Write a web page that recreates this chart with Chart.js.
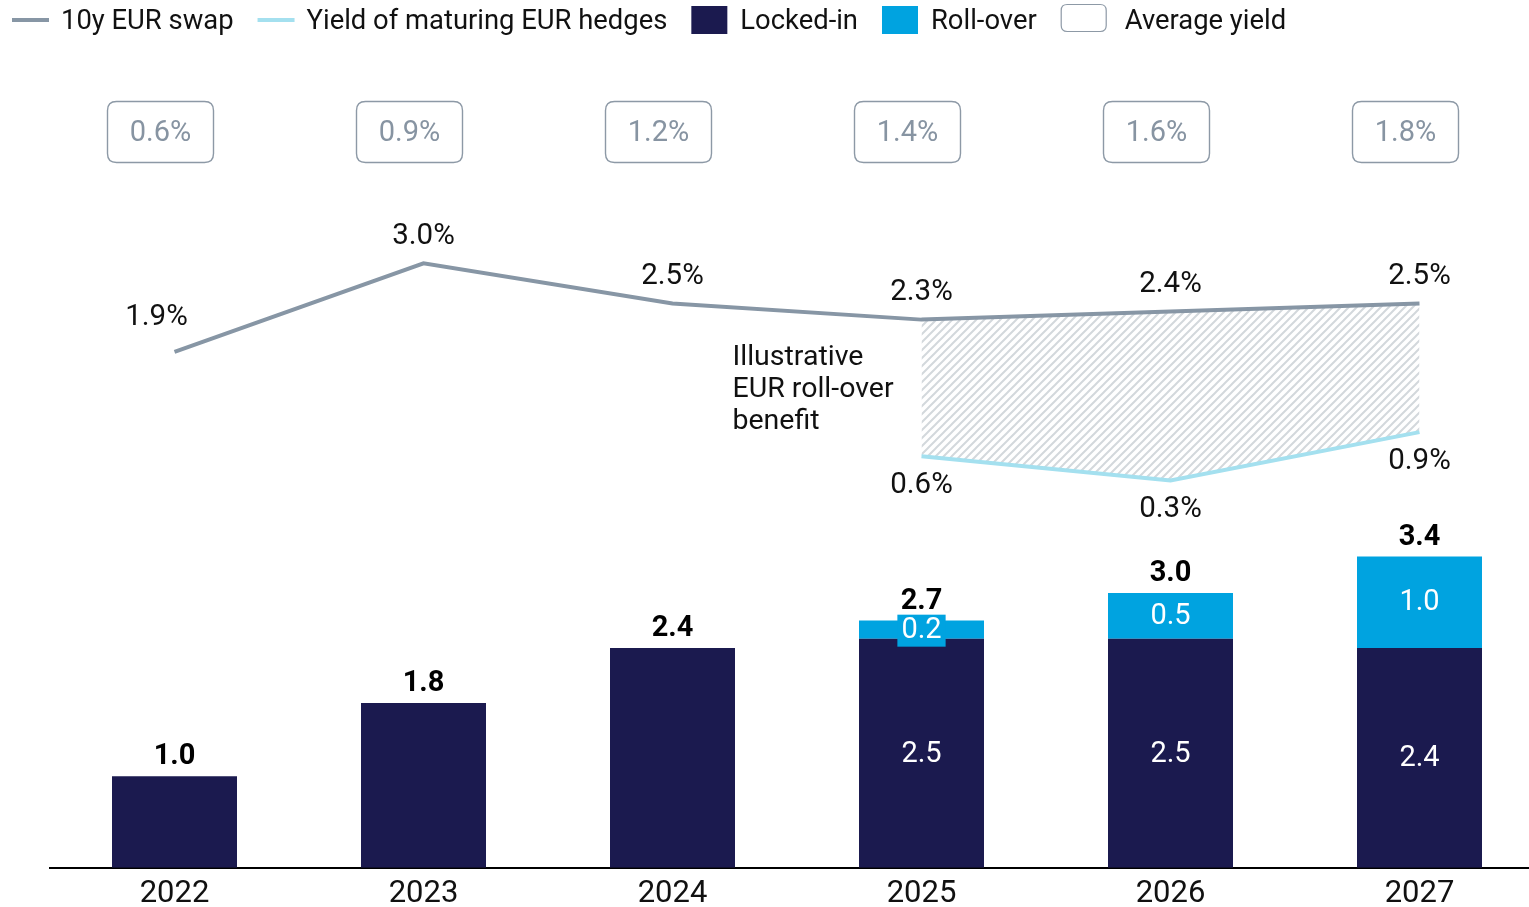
<!DOCTYPE html>
<html>
<head>
<meta charset="utf-8">
<script src="https://cdn.jsdelivr.net/npm/chart.js@4/dist/chart.umd.min.js"></script>
<style>
  html, body { margin: 0; padding: 0; background: #fff; overflow: hidden; }
  #wrap { width: 1529px; height: 907px; overflow: hidden; }
  canvas { display: block; }
</style>
</head>
<body>
<div id="wrap"><canvas id="hedgeChart" width="1545" height="921"></canvas></div>
<script>
// Years and series
const years = ['2022', '2023', '2024', '2025', '2026', '2027'];
const lockedIn = [1.0, 1.8, 2.4, 2.5, 2.5, 2.4];
const rollOver = [0, 0, 0, 0.2, 0.5, 1.0];
const swap10y = [1.9, 3.0, 2.5, 2.3, 2.4, 2.5];
const maturingYield = [null, null, null, 0.6, 0.3, 0.9];
const averageYield = [0.6, 0.9, 1.2, 1.4, 1.6, 1.8];

const NAVY = '#1b1a4f';
const CYAN = '#00a3e0';
const SWAP_GREY = '#8796a5';
const YIELD_BLUE = '#a4e0ef';
const BOX_GREY = '#8d99a6';
const FONT = 'Roboto, "Noto Sans", sans-serif';

// Diagonal hatch for the roll-over benefit area
function makeHatch() {
    const c = document.createElement('canvas');
    c.width = 8; c.height = 8;
    const g = c.getContext('2d');
    g.fillStyle = '#ffffff';
    g.fillRect(0, 0, 8, 8);
    g.strokeStyle = '#d3d8dc';
    g.lineWidth = 2;
    g.beginPath();
    g.moveTo(-1, 9); g.lineTo(9, -1);
    g.moveTo(-1, 1); g.lineTo(1, -1);
    g.moveTo(7, 9); g.lineTo(9, 7);
    g.stroke();
    return g.createPattern(c, 'repeat');
}

function roundRect(ctx, x, y, w, h, r) {
    ctx.beginPath();
    ctx.moveTo(x + r, y);
    ctx.lineTo(x + w - r, y);
    ctx.quadraticCurveTo(x + w, y, x + w, y + r);
    ctx.lineTo(x + w, y + h - r);
    ctx.quadraticCurveTo(x + w, y + h, x + w - r, y + h);
    ctx.lineTo(x + r, y + h);
    ctx.quadraticCurveTo(x, y + h, x, y + h - r);
    ctx.lineTo(x, y + r);
    ctx.quadraticCurveTo(x, y, x + r, y);
    ctx.closePath();
}

// Legend row across the top
const legendPlugin = {
    id: 'topLegend',
    afterDraw(chart) {
        const ctx = chart.ctx;
        const items = [
            { kind: 'line', color: SWAP_GREY, text: '10y EUR swap' },
            { kind: 'line', color: YIELD_BLUE, text: 'Yield of maturing EUR hedges' },
            { kind: 'box', color: NAVY, text: 'Locked-in' },
            { kind: 'box', color: CYAN, text: 'Roll-over' },
            { kind: 'outline', color: BOX_GREY, text: 'Average yield' }
        ];
        const cy = 22;
        let x = 12;
        ctx.save();
        ctx.font = '27.4px ' + FONT;
        ctx.textBaseline = 'middle';
        items.forEach(item => {
            let gap = 12;
            if (item.kind === 'line') {
                ctx.strokeStyle = item.color;
                ctx.lineWidth = 4;
                ctx.beginPath();
                ctx.moveTo(x, cy - 2); ctx.lineTo(x + 37, cy - 2);
                ctx.stroke();
                x += 37;
            } else if (item.kind === 'box') {
                ctx.fillStyle = item.color;
                ctx.fillRect(x, cy - 16, 36, 28);
                x += 36;
                gap = 13;
            } else {
                ctx.strokeStyle = item.color;
                ctx.lineWidth = 1.2;
                roundRect(ctx, x + 0.5, cy - 17.5, 45, 27, 6);
                ctx.stroke();
                x += 46;
                gap = 18;
            }
            x += gap;
            ctx.fillStyle = '#111';
            ctx.fillText(item.text, x, cy);
            x += ctx.measureText(item.text).width + 24;
        });
        ctx.restore();
    }
};

// Value labels, average-yield boxes and the annotation
const labelPlugin = {
    id: 'valueLabels',
    afterDatasetsDraw(chart) {
        const ctx = chart.ctx;
        const xs = chart.scales.x;
        const ys = chart.scales.y;
        const y2 = chart.scales.y2;
        ctx.save();
        ctx.textAlign = 'center';

        // average yield boxes, set slightly left of each year
        averageYield.forEach((v, i) => {
            const cx = xs.getPixelForValue(i) - 14;
            ctx.strokeStyle = BOX_GREY;
            ctx.lineWidth = 1.4;
            roundRect(ctx, cx - 53, 101.5, 106, 61, 9);
            ctx.stroke();
            ctx.fillStyle = '#8794a2';
            ctx.font = '29px ' + FONT;
            ctx.textBaseline = 'middle';
            ctx.fillText(v.toFixed(1) + '%', cx, 134);
        });

        // bar labels
        ctx.textBaseline = 'middle';
        years.forEach((yr, i) => {
            const cx = xs.getPixelForValue(i);
            const total = lockedIn[i] + rollOver[i];
            const topPx = ys.getPixelForValue(total);
            ctx.fillStyle = '#000';
            ctx.font = 'bold 29px ' + FONT;
            ctx.fillText(total.toFixed(1), cx, topPx - 19);

            if (rollOver[i] > 0) {
                const base = ys.getPixelForValue(0);
                const lockTop = ys.getPixelForValue(lockedIn[i]);
                ctx.font = '29px ' + FONT;
                ctx.fillStyle = '#fff';
                ctx.fillText(lockedIn[i].toFixed(1), cx, (base + lockTop) / 2 + 1);

                const segMid = (lockTop + topPx) / 2;
                const txt = rollOver[i].toFixed(1);
                if (lockTop - topPx < 30) {
                    const w = ctx.measureText(txt).width + 8;
                    ctx.fillStyle = CYAN;
                    ctx.fillRect(cx - w / 2, segMid - 15, w, 32);
                }
                ctx.fillStyle = '#fff';
                ctx.fillText(txt, cx, segMid + 1);
            }
        });

        // line labels
        ctx.font = '29.5px ' + FONT;
        ctx.fillStyle = '#111';
        swap10y.forEach((v, i) => {
            const px = xs.getPixelForValue(i);
            const py = y2.getPixelForValue(v);
            const shift = i === 0 ? [-18, -7] : [0, 0];
            ctx.fillText(v.toFixed(1) + '%', px + shift[0], py - 27 + shift[1]);
        });
        maturingYield.forEach((v, i) => {
            if (v === null) return;
            const px = xs.getPixelForValue(i);
            const py = y2.getPixelForValue(v);
            ctx.fillText(v.toFixed(1) + '%', px, py + 29);
        });

        // annotation beside the hatched area
        const ax = xs.getPixelForValue(3) - 189;
        ctx.textAlign = 'left';
        ctx.textBaseline = 'alphabetic';
        ctx.font = '28.5px ' + FONT;
        ['Illustrative', 'EUR roll-over', 'benefit'].forEach((line, k) => {
            ctx.fillText(line, ax, 365 + k * 32);
        });
        ctx.restore();
    }
};

const ctx = document.getElementById('hedgeChart').getContext('2d');
new Chart(ctx, {
    data: {
        labels: years,
        datasets: [
            {
                type: 'line',
                label: '10y EUR swap',
                data: swap10y,
                yAxisID: 'y2',
                borderColor: SWAP_GREY,
                borderWidth: 4,
                pointRadius: 0,
                tension: 0,
                fill: false
            },
            {
                type: 'line',
                label: 'Yield of maturing EUR hedges',
                data: maturingYield,
                yAxisID: 'y2',
                borderColor: YIELD_BLUE,
                borderWidth: 4,
                pointRadius: 0,
                tension: 0,
                backgroundColor: makeHatch(),
                fill: { target: 0 }
            },
            {
                type: 'bar',
                label: 'Locked-in',
                data: lockedIn,
                yAxisID: 'y',
                backgroundColor: NAVY,
                stack: 'hedges',
                barPercentage: 0.502,
                categoryPercentage: 1
            },
            {
                type: 'bar',
                label: 'Roll-over',
                data: rollOver,
                yAxisID: 'y',
                backgroundColor: CYAN,
                stack: 'hedges',
                barPercentage: 0.502,
                categoryPercentage: 1
            }
        ]
    },
    options: {
        responsive: false,
        animation: false,
        layout: { padding: { left: 50, right: 1, top: 60, bottom: 0 } },
        plugins: {
            legend: { display: false },
            tooltip: { enabled: false }
        },
        scales: {
            x: {
                stacked: true,
                grid: { display: false, drawTicks: false },
                border: { display: true, color: '#000', width: 2 },
                ticks: { color: '#111', font: { family: FONT, size: 31 }, padding: 8 }
            },
            y: {
                display: false,
                stacked: true,
                min: 0,
                max: 8.82
            },
            y2: {
                display: false,
                min: -4.52,
                max: 5.53
            }
        }
    },
    plugins: [legendPlugin, labelPlugin]
});
</script>
</body>
</html>
